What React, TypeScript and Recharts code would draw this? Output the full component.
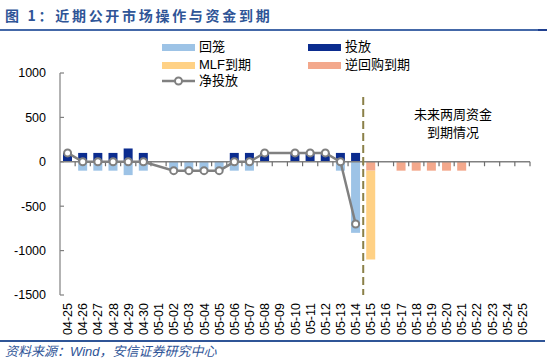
import React from 'react';
import { ComposedChart, Bar, Line, XAxis, YAxis, ReferenceLine } from 'recharts';

const dates = [
  '04-25', '04-26', '04-27', '04-28', '04-29', '04-30', '05-01', '05-02', '05-03', '05-04', '05-05',
  '05-06', '05-07', '05-08', '05-09', '05-10', '05-11', '05-12', '05-13', '05-14', '05-15', '05-16',
  '05-17', '05-18', '05-19', '05-20', '05-21', '05-22', '05-23', '05-24', '05-25',
];
const huilong = [null, -100, -100, -100, -150, -100, null, -100, -100, -100, -100, -100, -100, null, null, null, null, null, -100, -800, null, null, null, null, null, null, null, null, null, null, null];
const toufang = [100, 100, 100, 100, 150, 100, null, null, null, null, null, 100, 100, 100, null, 100, 100, 100, 100, 100, null, null, null, null, null, null, null, null, null, null, null];
const mlfDue = [null, null, null, null, null, null, null, null, null, null, null, null, null, null, null, null, null, null, null, null, -1000, null, null, null, null, null, null, null, null, null, null];
const repoDue = [null, null, null, null, null, null, null, null, null, null, null, null, null, null, null, null, null, null, null, null, -100, null, -100, -100, -100, -100, -100, null, null, null, null];
const netInject = [100, 0, 0, 0, 0, 0, null, -100, -100, -100, -100, 0, 0, 100, null, 100, 100, 100, 0, -700, null, null, null, null, null, null, null, null, null, null, null];
const yTicks = [1000, 500, 0, -500, -1000, -1500];

const C_HUILONG = '#9DC3E6';
const C_TOUFANG = '#0B2C8F';
const C_MLF = '#FFD185';
const C_REPO = '#F3A88C';
const C_NET = '#808080';
const C_BLUE = '#2F5597';

const data = dates.map((d, i) => ({
  date: d,
  huilong: huilong[i],
  toufang: toufang[i],
  repo: repoDue[i],
  mlf: mlfDue[i],
  net: netInject[i],
}));

const FONT = '"Liberation Sans", Arial, "Noto Sans CJK SC", sans-serif';

const XTick = (props: any) => {
  const { x, y, payload } = props;
  return (
    <text
      x={x}
      y={y}
      transform={`rotate(-90, ${x}, ${y})`}
      textAnchor="end"
      dy="0.36em"
      fontSize={12.5}
      fill="#000"
      fontFamily={FONT}
    >
      {payload.value}
    </text>
  );
};

const legendItems = [
  { name: '回笼', color: C_HUILONG, left: 162, top: 47.3 },
  { name: '投放', color: C_TOUFANG, left: 308, top: 47.3 },
  { name: 'MLF到期', color: C_MLF, left: 162, top: 65 },
  { name: '逆回购到期', color: C_REPO, left: 308, top: 65 },
];

export default function App() {
  return (
    <div style={{ position: 'absolute', left: 0, top: 0, width: 550, height: 362, background: '#fff', fontFamily: FONT, overflow: 'hidden' }}>
      <div style={{ position: 'absolute', left: 5, top: 6, fontSize: 14, fontWeight: 'bold', color: C_BLUE, letterSpacing: 2.7, whiteSpace: 'nowrap', lineHeight: '18px', fontFamily: '"Noto Sans CJK SC", sans-serif' }}>
        图 1：近期公开市场操作与资金到期
      </div>
      <div style={{ position: 'absolute', left: 0, top: 28.5, width: 547, height: 2, background: '#4468A8' }} />
      <div style={{ position: 'absolute', left: 538, top: 28.5, width: 9, height: 2, background: '#1F3F8F' }} />

      <div style={{ position: 'absolute', left: 0, top: 0 }}>
        <ComposedChart
          width={550}
          height={340}
          data={data}
          margin={{ top: 73, right: 20, left: 0, bottom: 0 }}
          stackOffset="sign"
        >
          <YAxis
            width={60}
            domain={[-1500, 1000]}
            ticks={yTicks}
            interval={0}
            tickSize={-4}
            tickMargin={18}
            axisLine={{ stroke: '#808080', strokeWidth: 1.2 }}
            tickLine={{ stroke: '#808080', strokeWidth: 1.2 }}
            tick={{ fontSize: 12.5, fill: '#000', fontFamily: FONT }}
            allowDataOverflow
          />
          <XAxis
            dataKey="date"
            height={45}
            interval={0}
            axisLine={false}
            tickLine={false}
            tick={<XTick />}
          />
          <Bar dataKey="huilong" stackId="s" fill={C_HUILONG} barSize={9} isAnimationActive={false} />
          <Bar dataKey="toufang" stackId="s" fill={C_TOUFANG} barSize={9} isAnimationActive={false} />
          <Bar dataKey="repo" stackId="s" fill={C_REPO} barSize={9} isAnimationActive={false} />
          <Bar dataKey="mlf" stackId="s" fill={C_MLF} barSize={9} isAnimationActive={false} />
          <ReferenceLine y={0} stroke="#808080" strokeWidth={1.5} />
          {dates.slice(1).map((d) => (
            <ReferenceLine
              key={'t' + d}
              segment={[{ x: d, y: 0 }, { x: d, y: -50 }]}
              position="start"
              stroke="#6E6E6E"
              strokeWidth={1.2}
            />
          ))}
          <ReferenceLine
            segment={[{ x: dates[dates.length - 1], y: 0 }, { x: dates[dates.length - 1], y: -50 }]}
            position="end"
            stroke="#6E6E6E"
            strokeWidth={1.2}
          />
          <ReferenceLine
            segment={[{ x: '05-15', y: 730 }, { x: '05-15', y: -1500 }]}
            position="start"
            stroke="#8B8048"
            strokeWidth={2}
            strokeDasharray="8 4"
          />
          <Line
            dataKey="net"
            type="linear"
            connectNulls
            stroke={C_NET}
            strokeWidth={2.5}
            dot={{ r: 3.5, fill: '#fff', stroke: C_NET, strokeWidth: 2 }}
            isAnimationActive={false}
          />
        </ComposedChart>
      </div>

      {legendItems.map((it) => (
        <React.Fragment key={it.name}>
          <div style={{ position: 'absolute', left: it.left, top: it.top - 3.5, width: 33, height: 7, background: it.color }} />
          <div style={{ position: 'absolute', left: it.left + 37, top: it.top - 9, fontSize: 13, lineHeight: '18px', color: '#000', whiteSpace: 'nowrap' }}>{it.name}</div>
        </React.Fragment>
      ))}
      <svg style={{ position: 'absolute', left: 162, top: 74 }} width={34} height={14}>
        <line x1={0} y1={7} x2={33} y2={7} stroke={C_NET} strokeWidth={2.5} />
        <circle cx={16.5} cy={7} r={3.5} fill="#fff" stroke={C_NET} strokeWidth={2} />
      </svg>
      <div style={{ position: 'absolute', left: 199, top: 72, fontSize: 13, lineHeight: '18px', color: '#000', whiteSpace: 'nowrap' }}>净投放</div>

      <div style={{ position: 'absolute', left: 393, top: 106, width: 120, textAlign: 'center', fontSize: 13, lineHeight: '18px', color: '#000' }}>
        未来两周资金<br />到期情况
      </div>

      <div style={{ position: 'absolute', left: 0, top: 340, width: 545, height: 1.5, background: C_BLUE }} />
      <div style={{ position: 'absolute', left: 5, top: 343, fontSize: 13, lineHeight: '18px', fontStyle: 'italic', color: C_BLUE, whiteSpace: 'nowrap' }}>
        资料来源：Wind，安信证券研究中心
      </div>
    </div>
  );
}
